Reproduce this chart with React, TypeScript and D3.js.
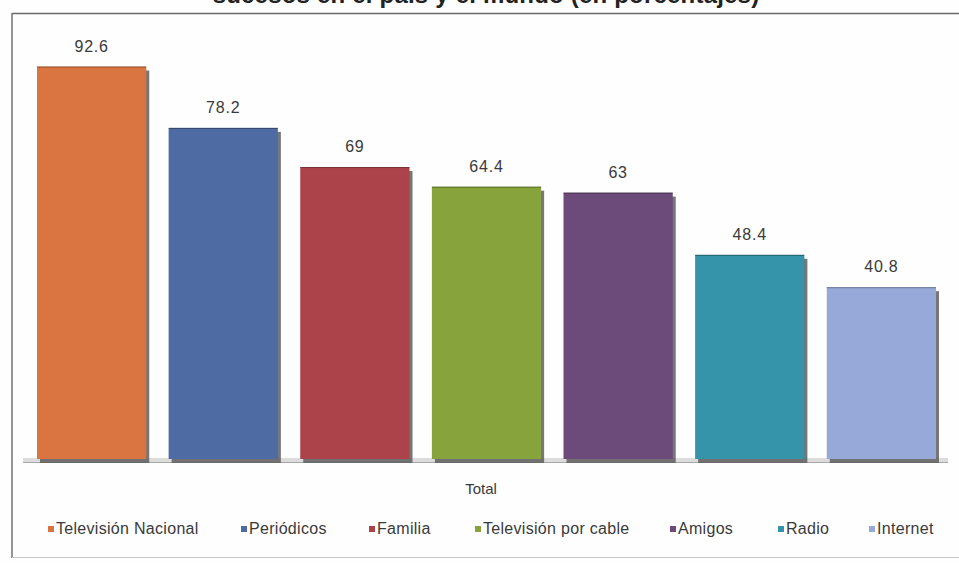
import React from "react";
import * as d3 from "d3";

const title = "sucesos en el país y el mundo (en porcentajes)";
const category = "Total";
const series = [
  "Televisión Nacional",
  "Periódicos",
  "Familia",
  "Televisión por cable",
  "Amigos",
  "Radio",
  "Internet",
];
const values = [92.6, 78.2, 69, 64.4, 63, 48.4, 40.8];
const valueLabels = ["92.6", "78.2", "69", "64.4", "63", "48.4", "40.8"];
const colors = ["#DA7440", "#4F6BA3", "#AC434B", "#87A33B", "#6C4A7A", "#3594A9", "#96A9D8"];
const legendX = [48, 241, 369, 475, 670, 778, 869];

const W = 959;
const H = 563;

export default function App() {
  const x = d3.scaleBand<string>().domain(series).range([37, 936]).paddingInner(0.17).paddingOuter(0);
  const y = d3.scaleLinear().domain([0, 100]).range([461, 35]);
  const font = "'Liberation Sans', Arial, sans-serif";
  return (
    <svg
      width={W}
      height={H}
      viewBox={`0 0 ${W} ${H}`}
      style={{ position: "absolute", left: 0, top: 0, background: "#fff" }}
      fontFamily={font}
    >
      <rect x={0} y={0} width={W} height={H} fill="#fefefe" />
      {/* title (cut off at top, as in the reference) */}
      <text x={486} y={3} textAnchor="middle" fontSize={24} fontWeight="bold" fill="#222" letterSpacing={0.2}>
        {title}
      </text>
      {/* frame */}
      <line x1={12} x2={W} y1={13.5} y2={13.5} stroke="#6a6a6a" strokeWidth={1.6} />
      <line x1={12} x2={12} y1={13} y2={558} stroke="#7a7a7a" strokeWidth={1.6} />
      <line x1={12} x2={W} y1={557.5} y2={557.5} stroke="#c8c8c8" strokeWidth={1} />
      {/* floor */}
      <rect x={23} y={y(0) - 3} width={925} height={4} fill="#dcdcdc" />
      <line x1={23} x2={948} y1={y(0) + 1.5} y2={y(0) + 1.5} stroke="#a8a8a8" strokeWidth={1} />
      {/* bars */}
      {series.map((s, i) => {
        const bx = x(s)!;
        const bw = x.bandwidth();
        const top = y(values[i]);
        return (
          <g key={s}>
            <rect x={bx + 3} y={top + 4} width={bw} height={y(0) - top - 2} fill="#5e5e5e" opacity={0.85} />
            <rect x={bx} y={top} width={bw} height={y(0) - top - 2} fill={colors[i]} />
            <line x1={bx} x2={bx + bw} y1={top + 0.5} y2={top + 0.5} stroke="#000" strokeOpacity={0.35} />
            <text
              x={bx + bw / 2}
              y={top - 15}
              textAnchor="middle"
              fontSize={16}
              letterSpacing={0.8}
              fill="#3a3a3a"
            >
              {valueLabels[i]}
            </text>
          </g>
        );
      })}
      {/* category label */}
      <text x={481} y={494} textAnchor="middle" fontSize={15} fill="#3a3a3a">
        {category}
      </text>
      {/* legend */}
      {series.map((s, i) => (
        <g key={"lg" + s}>
          <rect x={legendX[i]} y={526} width={6} height={6} fill={colors[i]} />
          <text x={legendX[i] + 8} y={534} fontSize={16} letterSpacing={0.3} fill="#3a3a3a">
            {s}
          </text>
        </g>
      ))}
    </svg>
  );
}
